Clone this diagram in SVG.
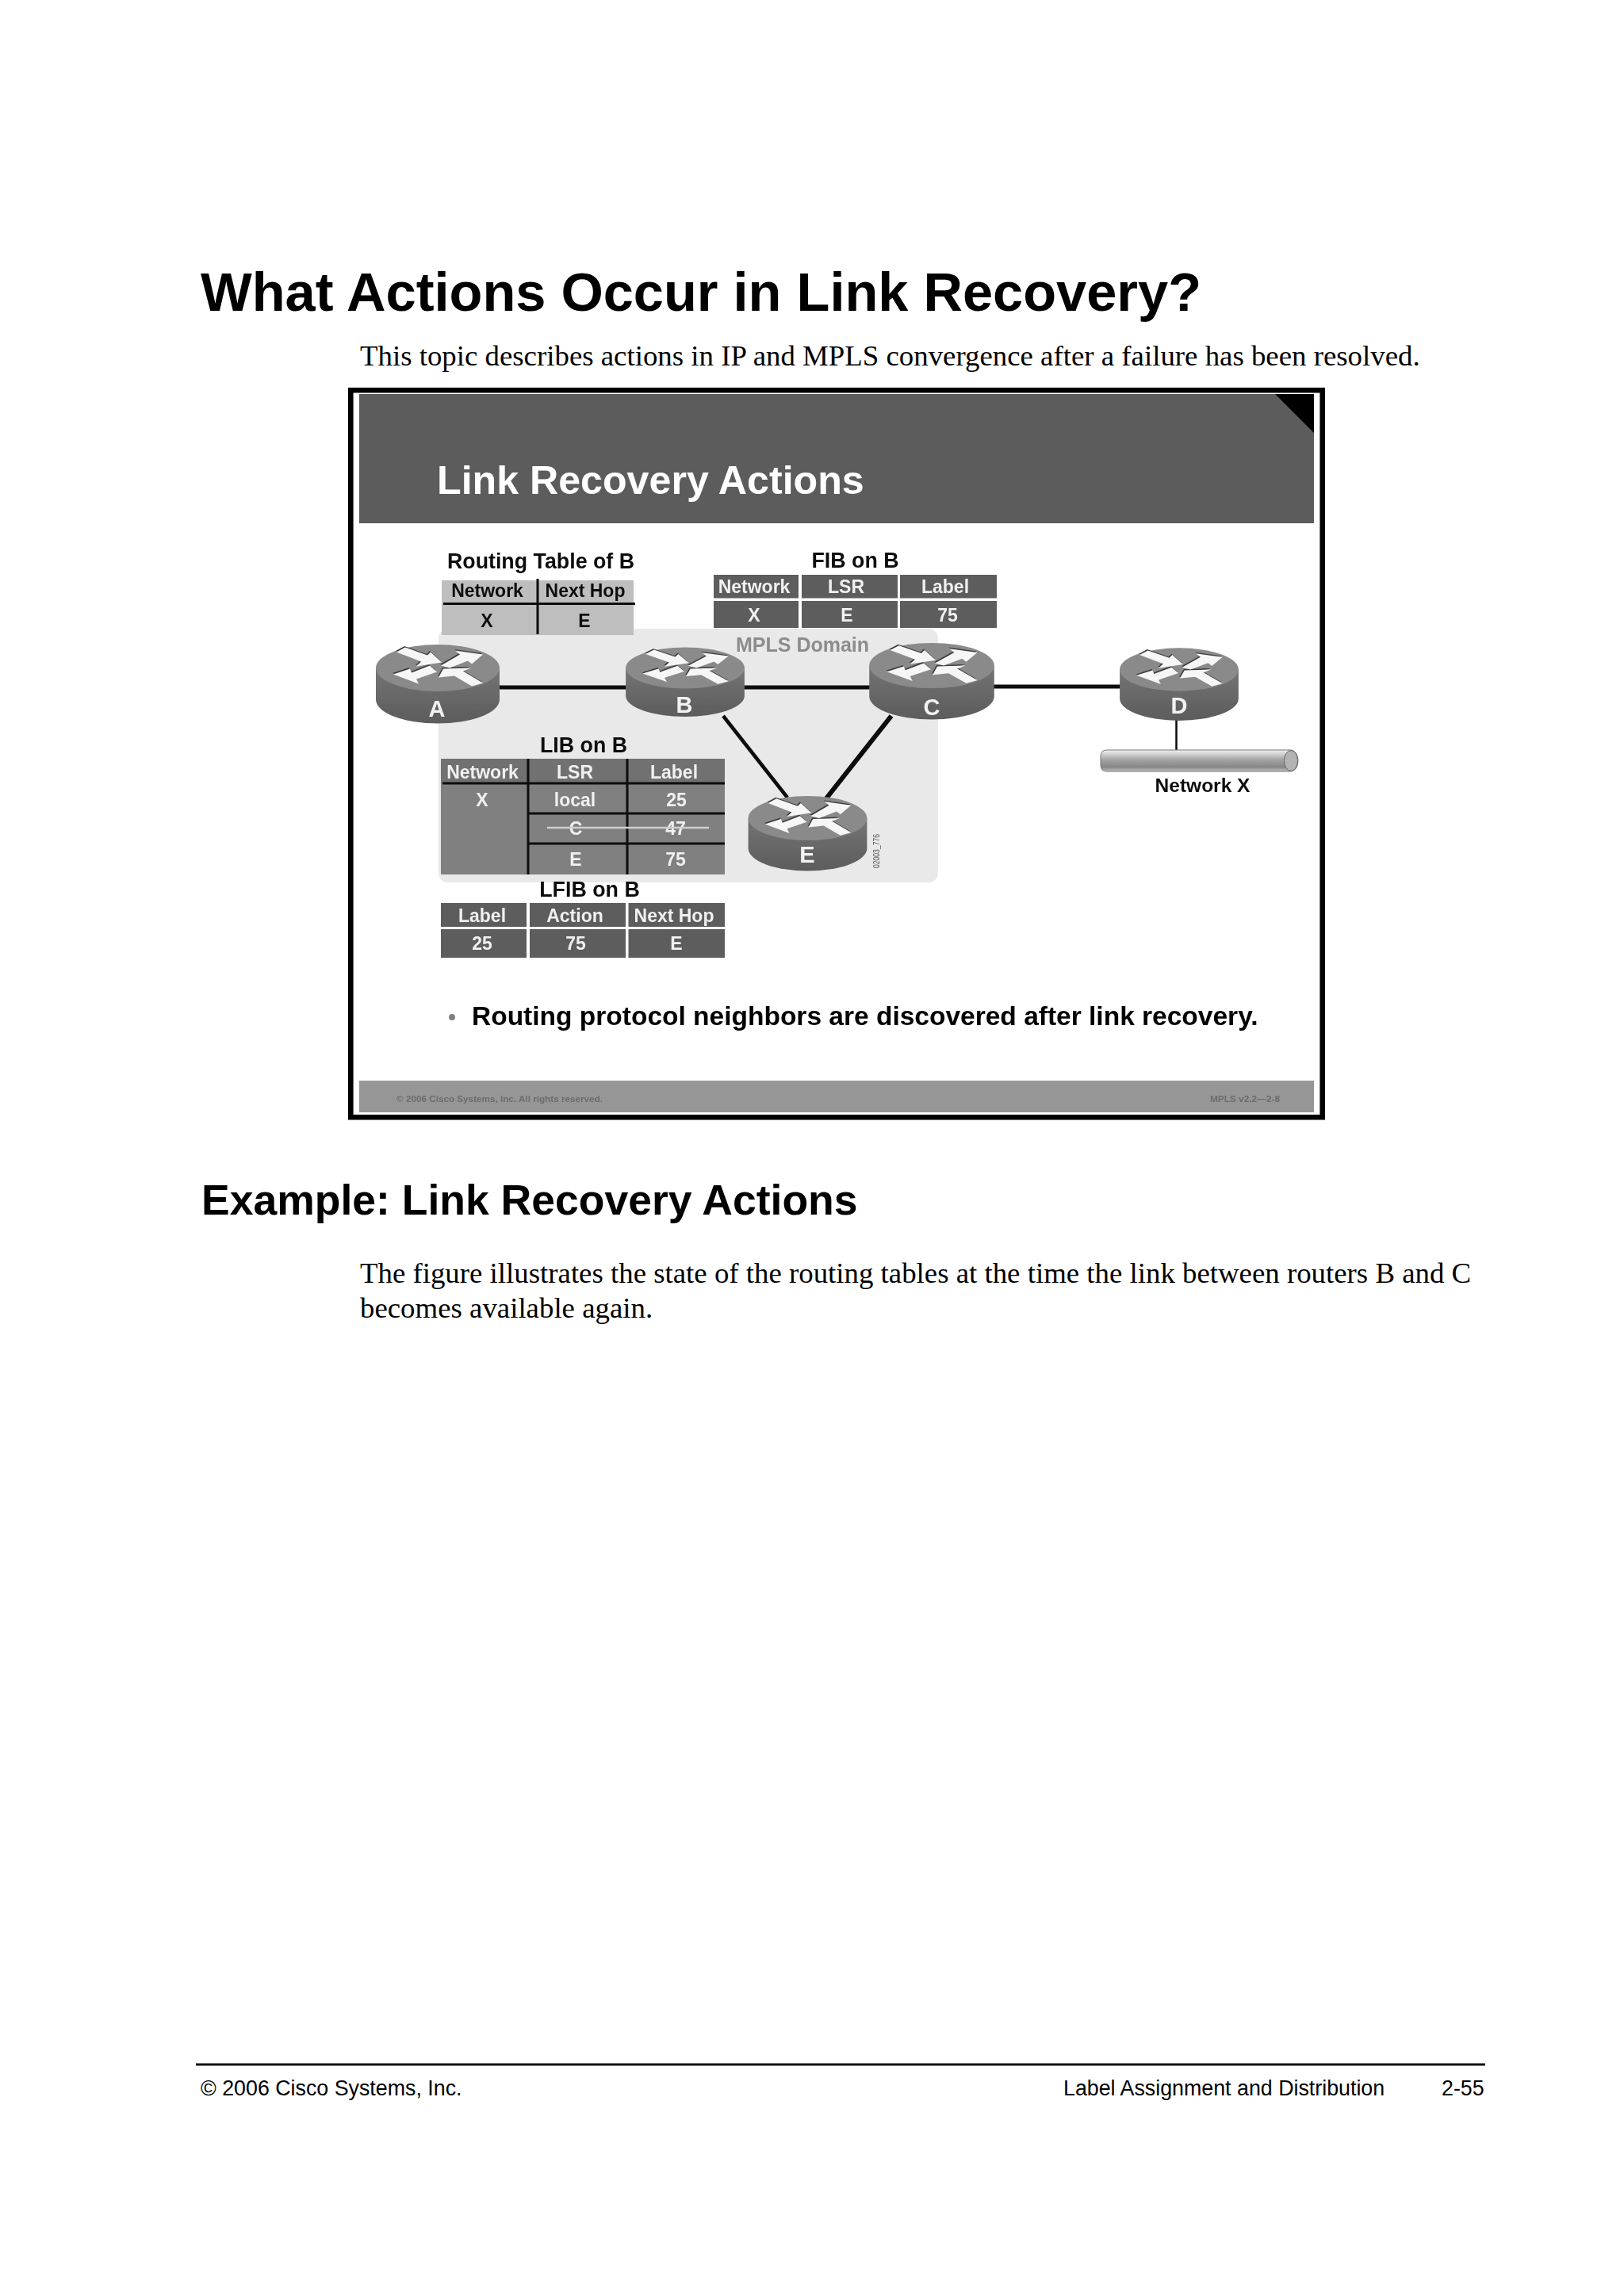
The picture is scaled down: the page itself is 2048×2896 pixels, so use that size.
<svg xmlns="http://www.w3.org/2000/svg" xmlns:xlink="http://www.w3.org/1999/xlink" width="2048" height="2896" viewBox="0 0 2048 2896">
<style>
text{font-family:"Liberation Sans",Arial,sans-serif}
.serif{font-family:"Liberation Serif","Times New Roman",serif;font-size:36.85px;fill:#000}
.h1{font-weight:bold;font-size:68.55px;fill:#000}
.h2{font-weight:bold;font-size:53.5px;fill:#000}
.foot{font-size:26.8px;fill:#000}
.cap{font-weight:bold;font-size:26.8px;fill:#111;text-anchor:middle}
.th{font-weight:bold;font-size:23px;text-anchor:middle}
.w{fill:#f0f0f0}
.k{fill:#111}
.cell{fill:#5d5d5d}
.rl{font-weight:bold;font-size:29px;fill:#f2f2f2;text-anchor:middle}
.lnk{stroke:#0a0a0a;fill:none}
.grid{stroke:#0a0a0a;stroke-width:3;fill:none}
.small{font-weight:bold;font-size:11.5px;fill:#6c6c6c}
</style>
<defs>
<filter id="soft" filterUnits="userSpaceOnUse" x="420" y="470" width="1270" height="960"><feGaussianBlur stdDeviation="0.55"/></filter>
<linearGradient id="side" x1="0" y1="0" x2="0" y2="1"><stop offset="0" stop-color="#747474"/><stop offset="1" stop-color="#5c5c5c"/></linearGradient>
<linearGradient id="pipe" x1="0" y1="0" x2="0" y2="1"><stop offset="0" stop-color="#f2f2f2"/><stop offset="0.45" stop-color="#a4a4a4"/><stop offset="0.8" stop-color="#868686"/><stop offset="1" stop-color="#c4c4c4"/></linearGradient>
<g id="arrows">
<polygon points="-52,-20 -41,-26 -13,-16 -9,-20 5,-7 -27,-2 -21,-8"/>
<polygon points="4,-3 15,0 38,-9 43,-5 57,-17 22,-22 28,-17"/>
<polygon points="-56,8 -24,20 -27,14 -1,5 -10,-3 -33,6 -35,1"/>
<polygon points="1,12 21,10 43,23 57,19 32,4 42,0 7,1"/>
</g>
<g id="router">
<path d="M-78,0V40A78,30 0 0 0 78,40V0Z" fill="url(#side)"/>
<ellipse cx="0" cy="0" rx="78" ry="29.5" fill="#8a8a8a"/>
<use xlink:href="#arrows" x="-1" y="-1.6" fill="#3c3c3c"/>
<use xlink:href="#arrows" fill="#f6f6f6"/>
</g>
</defs>
<rect id="page" width="2048" height="2896" fill="#fff"/>
<g id="page-text">
<text class="h1" x="253" y="392">What Actions Occur in Link Recovery?</text>
<text class="serif" x="454" y="461">This topic describes actions in IP and MPLS convergence after a failure has been resolved.</text>
<text class="h2" x="254" y="1532">Example: Link Recovery Actions</text>
<text class="serif" x="454" y="1618">The figure illustrates the state of the routing tables at the time the link between routers B and C</text>
<text class="serif" x="454" y="1662">becomes available again.</text>
<rect x="247" y="2602.5" width="1626" height="3" fill="#111"/>
<text class="foot" x="253" y="2643">© 2006 Cisco Systems, Inc.</text>
<text class="foot" x="1341" y="2643">Label Assignment and Distribution</text>
<text class="foot" x="1818" y="2643">2-55</text>
</g>
<g id="slide" filter="url(#soft)">
<rect x="442.3" y="492.2" width="1225.4" height="917" fill="#fff" stroke="#000" stroke-width="6.6"/>
<g id="slide-header">
<rect x="453" y="497" width="1204" height="163" fill="#5c5c5c"/>
<polygon points="1608,497 1657,497 1657,546" fill="#000"/>
<text x="551" y="623" font-weight="bold" font-size="50.15" fill="#fff">Link Recovery Actions</text>
</g>
<g id="mpls-domain">
<rect x="553" y="793" width="630" height="320" rx="12" fill="#e9e9e9"/>
<text x="928" y="822" font-weight="bold" font-size="25" fill="#8c8c8c">MPLS Domain</text>
<text x="0" y="0" font-size="10" fill="#555" transform="translate(1109,1095) rotate(-90)" textLength="43" lengthAdjust="spacingAndGlyphs">02003_776</text>
</g>
<g id="connectors">
<line class="lnk" stroke-width="5" x1="625" y1="867" x2="795" y2="867"/>
<line class="lnk" stroke-width="5" x1="935" y1="867" x2="1100" y2="867"/>
<line class="lnk" stroke-width="5" x1="1250" y1="866" x2="1416" y2="866"/>
<line class="lnk" stroke-width="4.5" x1="912" y1="903" x2="993" y2="1006"/>
<line class="lnk" stroke-width="6" x1="1124" y1="903" x2="1042" y2="1007"/>
<line class="lnk" stroke-width="2.5" x1="1483.5" y1="905" x2="1483.5" y2="947"/>
</g>
<g id="router-a"><use xlink:href="#router" transform="translate(552,842.5)"/><text class="rl" x="551" y="904">A</text></g>
<g id="router-b"><use xlink:href="#router" transform="translate(864,842.5) scale(0.96,0.88)"/><text class="rl" x="863" y="899">B</text></g>
<g id="router-c"><use xlink:href="#router" transform="translate(1175,839.5) scale(1.01,0.97)"/><text class="rl" x="1175" y="902">C</text></g>
<g id="router-d"><use xlink:href="#router" transform="translate(1487,844.5) scale(0.96,0.92)"/><text class="rl" x="1487" y="900">D</text></g>
<g id="router-e"><use xlink:href="#router" transform="translate(1018.5,1032) scale(0.96,0.95)"/><text class="rl" x="1018" y="1088">E</text></g>
<g id="network-x">
<path d="M1396,946H1628A9,13.5 0 0 1 1628,973H1396Q1388,973 1388,965V954Q1388,946 1396,946Z" fill="url(#pipe)" stroke="#777" stroke-width="1"/>
<ellipse cx="1628" cy="959.5" rx="8.5" ry="13" fill="#b4b4b4" stroke="#666" stroke-width="1"/>
<text x="1516.5" y="999" font-weight="bold" font-size="24.5" fill="#111" text-anchor="middle">Network X</text>
</g>
<g id="routing-table">
<text class="cap" x="682" y="717">Routing Table of B</text>
<rect x="557" y="732" width="242" height="69" fill="#bebebe"/>
<path class="grid" d="M559,761.5H801M678,730V800"/>
<text class="th k" x="614.5" y="753">Network</text><text class="th k" x="738" y="753">Next Hop</text>
<text class="th k" x="614" y="791">X</text><text class="th k" x="737" y="791">E</text>
</g>
<g id="fib">
<text class="cap" x="1078.5" y="716">FIB on B</text>
<rect class="cell" x="900" y="725" width="107" height="29.5"/><rect class="cell" x="1011" y="725" width="121" height="29.5"/><rect class="cell" x="1135" y="725" width="122" height="29.5"/>
<rect class="cell" x="900" y="758" width="107" height="34"/><rect class="cell" x="1011" y="758" width="121" height="34"/><rect class="cell" x="1135" y="758" width="122" height="34"/>
<text class="th w" x="951" y="748">Network</text><text class="th w" x="1067" y="748">LSR</text><text class="th w" x="1192" y="748">Label</text>
<text class="th w" x="951" y="784">X</text><text class="th w" x="1068" y="784">E</text><text class="th w" x="1195" y="784">75</text>
</g>
<g id="lib">
<text class="cap" x="736" y="949">LIB on B</text>
<rect x="556" y="957" width="358" height="146" fill="#808080"/>
<rect x="556" y="957" width="358" height="31" fill="#717171"/>
<path class="grid" d="M558,988H914M666,1026H914M666,1064H914M666,957V1103M791,957V1103"/>
<text class="th w" x="608.5" y="982">Network</text><text class="th w" x="725" y="982">LSR</text><text class="th w" x="850" y="982">Label</text>
<text class="th w" x="608" y="1017">X</text><text class="th w" x="725" y="1017">local</text><text class="th w" x="853" y="1017">25</text>
<text class="th w" x="726" y="1053">C</text><text class="th w" x="852" y="1053">47</text>
<line x1="690" y1="1044" x2="894" y2="1044" stroke="#cfcfcf" stroke-width="2.5"/>
<text class="th w" x="726" y="1092">E</text><text class="th w" x="852" y="1092">75</text>
</g>
<g id="lfib">
<text class="cap" x="743.5" y="1131">LFIB on B</text>
<rect class="cell" x="556" y="1139" width="108" height="30"/><rect class="cell" x="668" y="1139" width="121" height="30"/><rect class="cell" x="792.5" y="1139" width="121.5" height="30"/>
<rect class="cell" x="556" y="1172" width="108" height="36"/><rect class="cell" x="668" y="1172" width="121" height="36"/><rect class="cell" x="792.5" y="1172" width="121.5" height="36"/>
<text class="th w" x="608" y="1163">Label</text><text class="th w" x="725" y="1163">Action</text><text class="th w" x="850" y="1163">Next Hop</text>
<text class="th w" x="608" y="1198">25</text><text class="th w" x="726" y="1198">75</text><text class="th w" x="853" y="1198">E</text>
</g>
<g id="bullet">
<circle cx="570" cy="1283" r="4" fill="#808080"/>
<text x="595" y="1293" font-weight="bold" font-size="33.5" fill="#000">Routing protocol neighbors are discovered after link recovery.</text>
</g>
<g id="slide-footer">
<rect x="453" y="1363" width="1204" height="40" fill="#969696"/>
<text class="small" x="500" y="1390" textLength="260" lengthAdjust="spacingAndGlyphs">© 2006 Cisco Systems, Inc. All rights reserved.</text>
<text class="small" x="1526" y="1390" textLength="88" lengthAdjust="spacingAndGlyphs">MPLS v2.2—2-8</text>
</g>
</g>
</svg>
